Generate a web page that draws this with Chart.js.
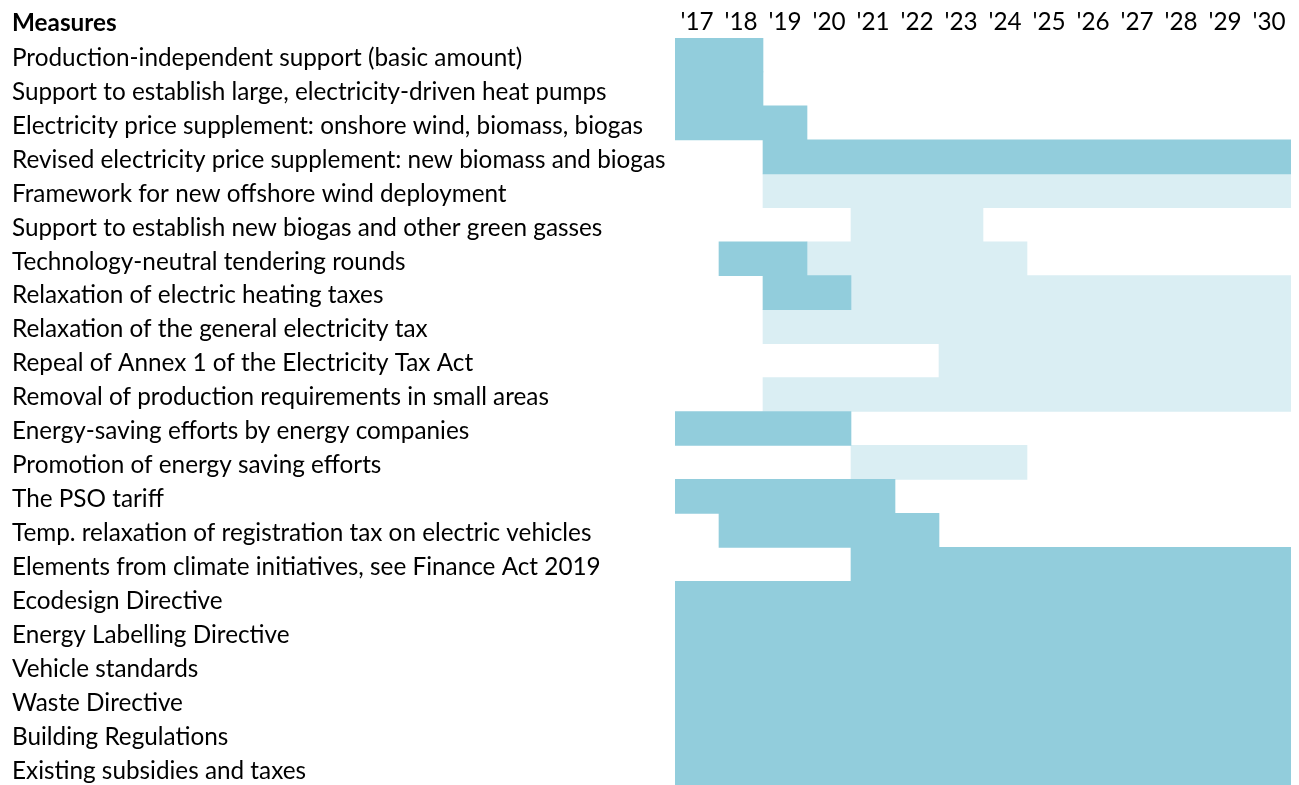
<!DOCTYPE html>
<html><head><meta charset="utf-8">
<script src="https://cdn.jsdelivr.net/npm/chart.js@4.4.1/dist/chart.umd.min.js"></script>
<style>html,body{margin:0;padding:0;background:#fff;overflow:hidden}canvas{display:block}</style>
</head><body>
<canvas id="c" width="1299" height="785"></canvas>
<script>
const headerTitle = 'Measures';
const measures = [
  'Production-independent support (basic amount)',
  'Support to establish large, electricity-driven heat pumps',
  'Electricity price supplement: onshore wind, biomass, biogas',
  'Revised electricity price supplement: new biomass and biogas',
  'Framework for new offshore wind deployment',
  'Support to establish new biogas and other green gasses',
  'Technology-neutral tendering rounds',
  'Relaxation of electric heating taxes',
  'Relaxation of the general electricity tax',
  'Repeal of Annex 1 of the Electricity Tax Act',
  'Removal of production requirements in small areas',
  'Energy-saving efforts by energy companies',
  'Promotion of energy saving efforts',
  'The PSO tariff',
  'Temp. relaxation of registration tax on electric vehicles',
  'Elements from climate initiatives, see Finance Act 2019',
  'Ecodesign Directive',
  'Energy Labelling Directive',
  'Vehicle standards',
  'Waste Directive',
  'Building Regulations',
  'Existing subsidies and taxes'
];
const years = [2017,2018,2019,2020,2021,2022,2023,2024,2025,2026,2027,2028,2029,2030];
// first and last year of the dark (in force) period per measure
const darkFirst = [2017,2017,2017,2019,null,null,2018,2019,null,null,null,2017,null,2017,2018,2021,2017,2017,2017,2017,2017,2017];
const darkLast  = [2018,2018,2019,2030,null,null,2019,2020,null,null,null,2020,null,2021,2022,2030,2030,2030,2030,2030,2030,2030];
// first and last year of the light period per measure
const lightFirst = [null,null,null,null,2019,2021,2020,2021,2019,2023,2019,null,2021,null,null,null,null,null,null,null,null,null];
const lightLast  = [null,null,null,null,2030,2023,2024,2030,2030,2030,2030,null,2024,null,null,null,null,null,null,null,null,null];

const DARK = '#92CDDC', LIGHT = '#DAEEF3';
const FONT = 'Lato, "Open Sans", sans-serif';
const FS = 24.3;

function spans(first, last){
  return first.map((f,i)=> f==null ? null : [f-0.5, last[i]+0.5]);
}

const headerPlugin = {
  id:'header',
  afterDraw(chart){
    const ctx = chart.ctx;
    ctx.save();
    ctx.font = 'bold ' + FS + 'px ' + FONT;
    ctx.fillStyle = '#000';
    ctx.textBaseline = 'middle';
    ctx.textAlign = 'left';
    ctx.fillText(headerTitle, 12, 23);
    ctx.restore();
  }
};

new Chart(document.getElementById('c'), {
  type:'bar',
  data:{
    labels: measures,
    datasets:[
      {data: spans(darkFirst, darkLast), backgroundColor: DARK, grouped:false, barPercentage:1, categoryPercentage:1, borderWidth:0},
      {data: spans(lightFirst, lightLast), backgroundColor: LIGHT, grouped:false, barPercentage:1, categoryPercentage:1, borderWidth:0}
    ]
  },
  options:{
    indexAxis:'y',
    responsive:false,
    animation:false,
    devicePixelRatio:1,
    layout:{padding:{left:12, right:8, top:0, bottom:0}},
    plugins:{legend:{display:false}, tooltip:{enabled:false}},
    scales:{
      x:{
        type:'linear', position:'top', min:2016.5, max:2030.5,
        afterBuildTicks(scale){ scale.ticks = years.map(v=>({value:v})); },
        afterFit(scale){ scale.height = 38; scale.paddingLeft = 0; scale.paddingRight = 0; },
        ticks:{
          autoSkip:false, maxRotation:0, padding:1, color:'#000',
          font:{family:FONT, size:FS},
          callback:(v)=> "'" + String(v).slice(2)
        },
        grid:{display:false, drawTicks:false},
        border:{display:false}
      },
      y:{
        afterFit(scale){ scale.width = 663; scale.paddingTop = 0; scale.paddingBottom = 0; },
        ticks:{
          crossAlign:'far', autoSkip:false, padding:0, color:'#000', labelOffset:3,
          font:{family:FONT, size:FS}
        },
        grid:{display:false, drawTicks:false},
        border:{display:false}
      }
    }
  },
  plugins:[headerPlugin]
});
</script>
</body></html>
